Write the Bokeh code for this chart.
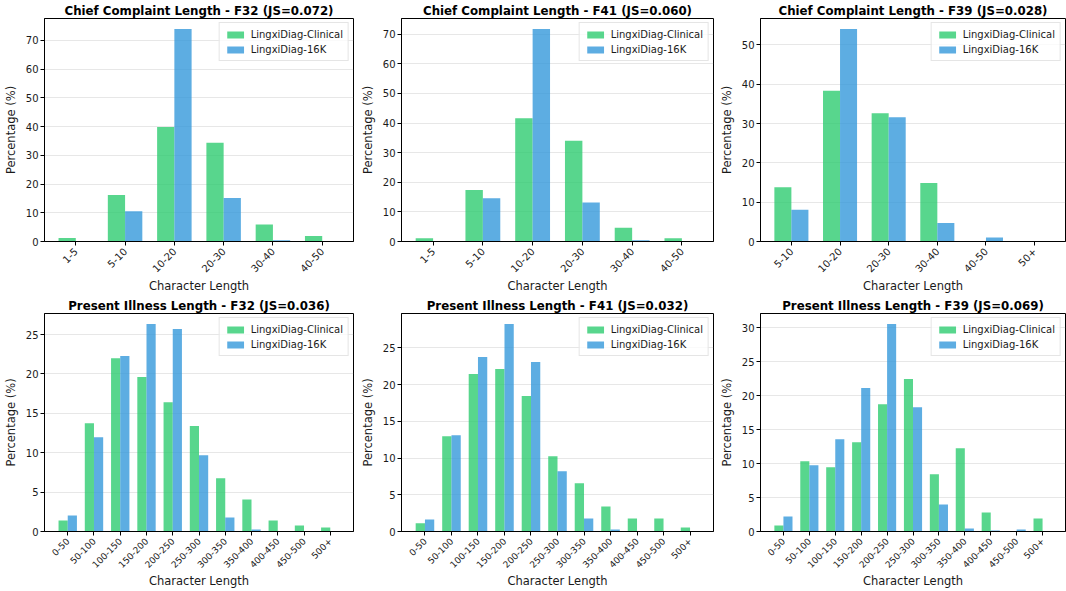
import math
from bokeh.plotting import figure
from bokeh.layouts import column, row
from bokeh.models import FixedTicker, SingleIntervalTicker, Range1d, ColumnDataSource
from bokeh.embed import file_html
from bokeh.resources import INLINE

# ---------------- data ----------------
cc_bins_f32 = ["1-5", "5-10", "10-20", "20-30", "30-40", "40-50"]
cc_bins_f41 = ["1-5", "5-10", "10-20", "20-30", "30-40", "40-50"]
cc_bins_f39 = ["5-10", "10-20", "20-30", "30-40", "40-50", "50+"]
pi_bins = ["0-50", "50-100", "100-150", "150-200", "200-250", "250-300",
           "300-350", "350-400", "400-450", "450-500", "500+"]

cc_f32_clinical = [1.2, 16.2, 39.8, 34.4, 5.9, 1.9]
cc_f32_16k = [0.0, 10.5, 73.9, 15.1, 0.4, 0.0]
cc_f41_clinical = [1.1, 17.4, 41.6, 34.0, 4.6, 1.1]
cc_f41_16k = [0.0, 14.6, 71.7, 13.2, 0.4, 0.0]
cc_f39_clinical = [13.8, 38.3, 32.6, 14.9, 0.0, 0.0]
cc_f39_16k = [8.1, 54.0, 31.6, 4.7, 1.0, 0.0]

pi_f32_clinical = [1.4, 13.75, 22.0, 19.6, 16.4, 13.4, 6.75, 4.07, 1.4, 0.76, 0.5]
pi_f32_16k = [2.04, 11.97, 22.28, 26.36, 25.72, 9.68, 1.78, 0.25, 0.05, 0.05, 0.05]
pi_f41_clinical = [1.14, 12.98, 21.45, 22.13, 18.44, 10.25, 6.56, 3.42, 1.78, 1.78, 0.55]
pi_f41_16k = [1.64, 13.11, 23.77, 28.28, 23.09, 8.2, 1.78, 0.27, 0.05, 0.05, 0.05]
pi_f39_clinical = [0.89, 10.33, 9.44, 13.13, 18.74, 22.43, 8.41, 12.25, 2.8, 0.05, 1.92]
pi_f39_16k = [2.21, 9.74, 13.58, 21.1, 30.55, 18.3, 3.98, 0.44, 0.15, 0.3, 0.05]

series_names = ["LingxiDiag-Clinical", "LingxiDiag-16K"]

GREEN = "#2ECC71"
BLUE = "#3498DB"
FONT = "DejaVu Sans"
TXT = "#1a1a1a"
BAR_W = 0.35


def make_panel(title, cats, clinical, k16, tick_interval, width, height,
               border_left, border_right, border_top, xtick_size):
    n = len(cats)
    xs = list(range(n))
    span = (n - 1) + 2 * BAR_W
    lo = -BAR_W - 0.05 * span
    hi = (n - 1) + BAR_W + 0.05 * span
    ymax = 1.05 * max(max(clinical), max(k16))
    p = figure(width=width, height=height, output_backend="svg", toolbar_location=None,
               x_range=Range1d(lo, hi), y_range=Range1d(0, ymax),
               min_border_left=border_left, min_border_right=border_right,
               min_border_top=border_top, min_border_bottom=0)
    src = ColumnDataSource(dict(
        xg=[x - BAR_W / 2 for x in xs], xb=[x + BAR_W / 2 for x in xs],
        clinical=clinical, k16=k16))
    p.vbar(x="xg", top="clinical", width=BAR_W, source=src, fill_color=GREEN,
           fill_alpha=0.8, line_color=None, legend_label=series_names[0])
    p.vbar(x="xb", top="k16", width=BAR_W, source=src, fill_color=BLUE,
           fill_alpha=0.8, line_color=None, legend_label=series_names[1])

    p.title.text = title
    p.title.align = "center"
    p.title.text_font = FONT
    p.title.text_font_size = "11.8px"
    p.title.text_font_style = "bold"
    p.title.text_color = "black"
    p.title.standoff = 2
    p.title.offset = 0

    p.xaxis.ticker = FixedTicker(ticks=xs)
    p.xaxis.major_label_overrides = {i: c for i, c in enumerate(cats)}
    p.xaxis.major_label_orientation = math.pi / 4
    p.yaxis.ticker = SingleIntervalTicker(interval=tick_interval)
    p.xaxis.axis_label = "Character Length"
    p.yaxis.axis_label = "Percentage (%)"
    for ax in (p.xaxis, p.yaxis):
        ax.axis_label_text_font = FONT
        ax.axis_label_text_font_size = "11.5px"
        ax.axis_label_text_font_style = "normal"
        ax.axis_label_text_color = TXT
        ax.major_label_text_font = FONT
        ax.major_label_text_font_size = "10px"
        ax.major_label_text_color = TXT
        ax.major_tick_in = 0
        ax.major_tick_out = 4
        ax.minor_tick_line_color = None
        ax.axis_line_color = "black"
        ax.major_tick_line_color = "black"
    p.xaxis.major_label_text_font_size = xtick_size
    p.yaxis.major_label_standoff = 2
    p.xaxis.major_label_standoff = 4
    p.yaxis.axis_label_standoff = 5
    p.xaxis.axis_label_standoff = 0
    p.xgrid.grid_line_color = None
    p.ygrid.grid_line_color = "#b0b0b0"
    p.ygrid.grid_line_alpha = 0.3
    p.outline_line_color = "black"
    p.outline_line_width = 1

    lg = p.legend[0]
    lg.location = "top_right"
    lg.label_text_font = FONT
    lg.label_text_font_size = "10px"
    lg.label_text_color = TXT
    lg.glyph_width = 21
    lg.glyph_height = 9
    lg.label_height = 12
    lg.spacing = 3
    lg.padding = 5
    lg.margin = 4
    lg.border_line_color = "#cccccc"
    lg.background_fill_alpha = 0.8
    return p


WIDTHS = [356, 360, 350]
LEFTS = [42, 45, 44]
RIGHTS = [3, 3, 1]
H1 = 295
H2 = 296

top_specs = [
    ("Chief Complaint Length - F32 (JS=0.072)", cc_bins_f32, cc_f32_clinical, cc_f32_16k),
    ("Chief Complaint Length - F41 (JS=0.060)", cc_bins_f41, cc_f41_clinical, cc_f41_16k),
    ("Chief Complaint Length - F39 (JS=0.028)", cc_bins_f39, cc_f39_clinical, cc_f39_16k),
]
bottom_specs = [
    ("Present Illness Length - F32 (JS=0.036)", pi_bins, pi_f32_clinical, pi_f32_16k),
    ("Present Illness Length - F41 (JS=0.032)", pi_bins, pi_f41_clinical, pi_f41_16k),
    ("Present Illness Length - F39 (JS=0.069)", pi_bins, pi_f39_clinical, pi_f39_16k),
]

top_row = [make_panel(t, c, a, b, 10, WIDTHS[i], H1, LEFTS[i], RIGHTS[i], 18, "10px")
           for i, (t, c, a, b) in enumerate(top_specs)]
bottom_row = [make_panel(t, c, a, b, 5, WIDTHS[i], H2, LEFTS[i], RIGHTS[i], 18, "9px")
              for i, (t, c, a, b) in enumerate(bottom_specs)]

layout = column(row(*top_row), row(*bottom_row))
open("out.html", "w").write(file_html(layout, INLINE))
